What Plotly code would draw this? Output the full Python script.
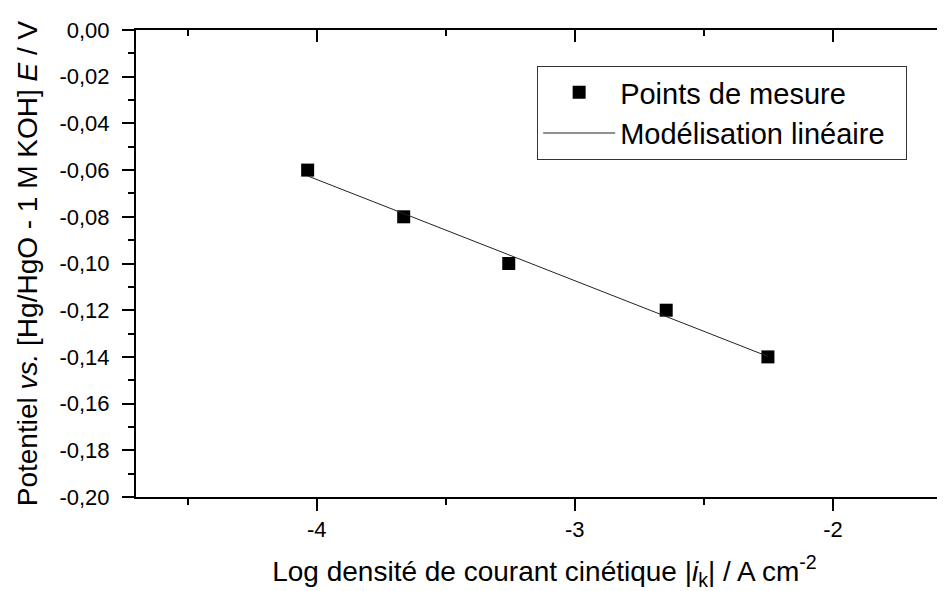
import plotly.graph_objects as go

log_ik = [-4.035, -3.663, -3.256, -2.646, -2.252]
potential = [-0.06, -0.08, -0.10, -0.12, -0.14]

# Linear model line (end points)
fit_x = [-4.035, -2.252]
fit_y = [-0.0625, -0.1398]

x_ticks = [-4, -3, -2]
x_tick_labels = ["-4", "-3", "-2"]
y_ticks = [0.0, -0.02, -0.04, -0.06, -0.08, -0.10, -0.12, -0.14, -0.16, -0.18, -0.20]
y_tick_labels = ["0,00", "-0,02", "-0,04", "-0,06", "-0,08", "-0,10",
                 "-0,12", "-0,14", "-0,16", "-0,18", "-0,20"]

FONT = "Liberation Sans, Arial, sans-serif"
X_RANGE = [-4.70, -1.535]
Y_RANGE = [-0.20, 0.0]
PAD = "\u00a0\u00a0"

fig = go.Figure()
fig.add_trace(go.Scatter(
    x=log_ik, y=potential, mode="markers", name="Points de mesure" + PAD,
    marker=dict(symbol="square", size=13, color="black"),
))
fig.add_trace(go.Scatter(
    x=fit_x, y=fit_y, mode="lines", name="Modélisation linéaire" + PAD,
    line=dict(color="#222222", width=1),
))
# invisible helper traces for the mirrored top / right axes
fig.add_trace(go.Scatter(x=[], y=[], xaxis="x2", yaxis="y", showlegend=False, hoverinfo="skip"))
fig.add_trace(go.Scatter(x=[], y=[], xaxis="x", yaxis="y2", showlegend=False, hoverinfo="skip"))

fig.update_layout(
    width=945, height=591,
    margin=dict(l=128, r=0, t=22, b=102),
    paper_bgcolor="white", plot_bgcolor="white",
    font=dict(family=FONT, color="black", size=22),
    showlegend=True,
    legend=dict(
        x=0.491, y=0.923, xanchor="left", yanchor="top",
        bgcolor="white", bordercolor="#333333", borderwidth=1,
        font=dict(size=29, family=FONT, color="black"),
        itemwidth=72, tracegroupgap=0,
    ),
    xaxis=dict(
        range=X_RANGE, tickvals=x_ticks, ticktext=x_tick_labels,
        showgrid=False, zeroline=False,
        showline=True, linecolor="black", linewidth=2,
        ticks="outside", ticklen=12, tickwidth=2, tickcolor="black",
        minor=dict(dtick=0.5, ticks="outside", ticklen=6, tickwidth=2, tickcolor="black"),
        tickfont=dict(size=22),
        ticklabelstandoff=0,
        title=dict(
            text="Log densité de courant cinétique |<i>i</i><sub>k</sub>| / A cm<sup>-2</sup>",
            font=dict(size=28), standoff=20,
        ),
    ),
    xaxis2=dict(
        range=X_RANGE, overlaying="x", side="top", anchor="y",
        tickvals=x_ticks, showticklabels=False,
        showgrid=False, zeroline=False,
        showline=True, linecolor="black", linewidth=2,
        ticks="inside", ticklen=12, tickwidth=2, tickcolor="black",
        minor=dict(dtick=0.5, ticks="inside", ticklen=6, tickwidth=2, tickcolor="black"),
    ),
    yaxis=dict(
        range=Y_RANGE, tickvals=y_ticks, ticktext=y_tick_labels,
        showgrid=False, zeroline=False,
        showline=True, linecolor="black", linewidth=2,
        ticks="outside", ticklen=12, tickwidth=2, tickcolor="black",
        minor=dict(dtick=0.01, ticks="outside", ticklen=6, tickwidth=2, tickcolor="black"),
        tickfont=dict(size=22),
        ticklabelstandoff=8,
        title=dict(
            text="Potentiel <i>vs.</i> [Hg/HgO - 1 M KOH] <i>E</i> / V",
            font=dict(size=28), standoff=14,
        ),
    ),
    yaxis2=dict(
        range=Y_RANGE, overlaying="y", side="right", anchor="x",
        tickvals=y_ticks, showticklabels=False,
        showgrid=False, zeroline=False, showline=False,
        ticks="inside", ticklen=3, tickwidth=2, tickcolor="black",
    ),
)

fig.write_html("out.html")
